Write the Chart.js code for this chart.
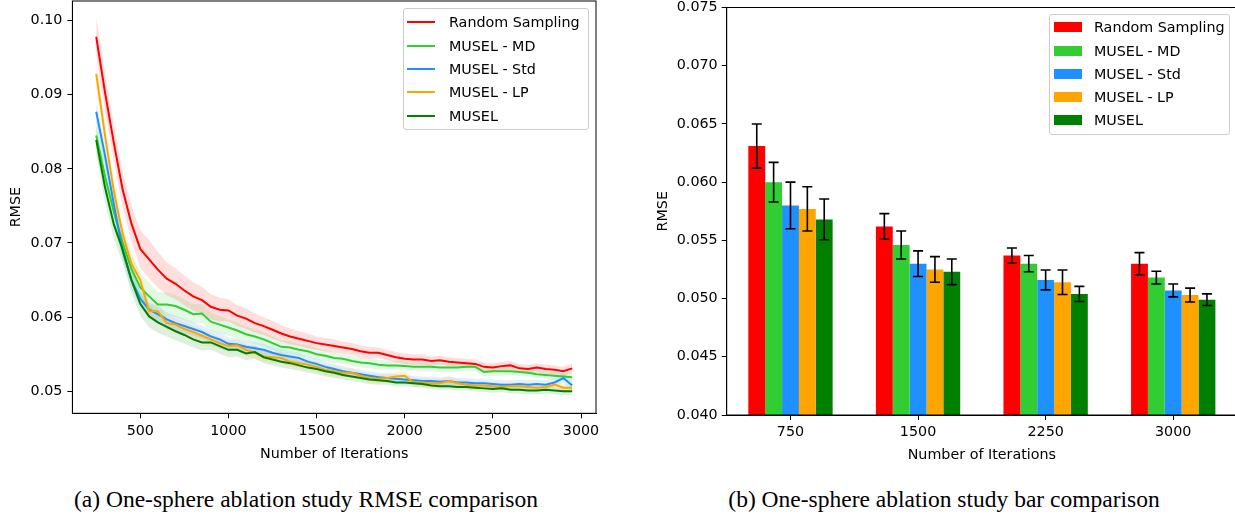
<!DOCTYPE html>
<html lang="en">
<head>
<meta charset="UTF-8">
<title>One-sphere ablation study</title>
<script src="https://cdn.jsdelivr.net/npm/chart.js"></script>
<style>
  html, body { margin: 0; padding: 0; background: #fff; }
  body { width: 1235px; height: 516px; overflow: hidden; position: relative; font-family: "DejaVu Sans", sans-serif; color: #000; }
  canvas { position: absolute; top: 0; }
  #lineChart { left: 0; }
  #barChart { left: 640px; }
  .legend { position: absolute; background: rgba(255,255,255,0.8); border: 1px solid #ccc; border-radius: 3px; box-sizing: border-box; font-size: 14.3px; }
  .legend .row { position: absolute; left: 0; right: 0; height: 20px; line-height: 20px; white-space: nowrap; }
  .legend .sw { position: absolute; }
  .legend .txt { position: absolute; }
  .caption { position: absolute; top: 488px; line-height: 23.5px; font-family: "Liberation Serif", "Times New Roman", serif; font-size: 23.5px; transform: translateX(-50%); white-space: nowrap; }
</style>
</head>
<body>
<canvas id="lineChart" width="610" height="470"></canvas>
<canvas id="barChart" width="620" height="470"></canvas>
<div class="legend" id="lineLegend" style="left:403px; top:8px; width:186px; height:122px;"></div>
<div class="legend" id="barLegend" style="left:1049px; top:14px; width:181px; height:121px;"></div>
<div class="caption" style="left:306px;">(a) One-sphere ablation study RMSE comparison</div>
<div class="caption" style="left:944px;">(b) One-sphere ablation study bar comparison</div>
<script>
// ---- shared series info ----
const seriesNames = ['Random Sampling', 'MUSEL - MD', 'MUSEL - Std', 'MUSEL - LP', 'MUSEL'];
const seriesColors = ['#ff0000', '#32cd32', '#1e90ff', '#ffa500', '#008000'];
const bandColors = ['rgba(255,0,0,0.13)', 'rgba(50,205,50,0.13)', 'rgba(30,144,255,0.13)', 'rgba(255,165,0,0.13)', 'rgba(0,128,0,0.13)'];

// ---- (a) RMSE vs iterations, sampled every 50 iterations from 250 to 2950 ----
const iters = [250, 300, 350, 400, 450, 500, 550, 600, 650, 700, 750,
               800, 850, 900, 950, 1000, 1050, 1100, 1150, 1200, 1250, 1300,
               1350, 1400, 1450, 1500, 1550, 1600, 1650, 1700, 1750, 1800, 1850,
               1900, 1950, 2000, 2050, 2100, 2150, 2200, 2250, 2300, 2350, 2400,
               2450, 2500, 2550, 2600, 2650, 2700, 2750, 2800, 2850, 2900, 2950];

const rsLine = [0.0978, 0.0903, 0.0835, 0.0772, 0.0726, 0.0692, 0.0678, 0.0664, 0.0652, 0.0645, 0.0636,
                0.0628, 0.0623, 0.0614, 0.0610, 0.0609, 0.0602, 0.0598, 0.0592, 0.0588, 0.0583, 0.0578,
                0.0574, 0.0571, 0.0568, 0.0565, 0.0563, 0.0561, 0.0559, 0.0557, 0.0554, 0.0552, 0.0552,
                0.0549, 0.0546, 0.0544, 0.0543, 0.0543, 0.0541, 0.0542, 0.0540, 0.0539, 0.0538, 0.0537,
                0.0533, 0.0532, 0.0534, 0.0535, 0.0531, 0.0530, 0.0532, 0.0530, 0.0529, 0.0527, 0.0531];
const mdLine = [0.0845, 0.0790, 0.0742, 0.0700, 0.0665, 0.0640, 0.0628, 0.0617, 0.0617, 0.0615, 0.0610,
                0.0604, 0.0605, 0.0594, 0.0590, 0.0586, 0.0582, 0.0577, 0.0574, 0.0570, 0.0565, 0.0560,
                0.0559, 0.0556, 0.0554, 0.0550, 0.0548, 0.0545, 0.0544, 0.0541, 0.0539, 0.0538, 0.0536,
                0.0535, 0.0535, 0.0534, 0.0533, 0.0533, 0.0533, 0.0532, 0.0532, 0.0532, 0.0533, 0.0533,
                0.0526, 0.0527, 0.0527, 0.0527, 0.0526, 0.0525, 0.0523, 0.0522, 0.0521, 0.0520, 0.0519];
const stdLine = [0.0877, 0.0818, 0.0752, 0.0690, 0.0650, 0.0625, 0.0610, 0.0604, 0.0597, 0.0592, 0.0588,
                 0.0584, 0.0580, 0.0574, 0.0570, 0.0564, 0.0563, 0.0560, 0.0558, 0.0556, 0.0552, 0.0549,
                 0.0547, 0.0545, 0.0540, 0.0537, 0.0533, 0.0530, 0.0527, 0.0525, 0.0523, 0.0521, 0.0519,
                 0.0518, 0.0517, 0.0516, 0.0515, 0.0514, 0.0514, 0.0513, 0.0514, 0.0512, 0.0512, 0.0511,
                 0.0511, 0.0510, 0.0509, 0.0509, 0.0510, 0.0509, 0.0510, 0.0509, 0.0512, 0.0518, 0.0508];
const lpLine = [0.0928, 0.0845, 0.0770, 0.0712, 0.0672, 0.0650, 0.0608, 0.0608, 0.0592, 0.0590, 0.0584,
                0.0580, 0.0575, 0.0570, 0.0565, 0.0561, 0.0562, 0.0556, 0.0552, 0.0547, 0.0546, 0.0545,
                0.0540, 0.0538, 0.0536, 0.0533, 0.0529, 0.0527, 0.0525, 0.0525, 0.0521, 0.0518, 0.0517,
                0.0518, 0.0520, 0.0521, 0.0512, 0.0512, 0.0511, 0.0511, 0.0514, 0.0511, 0.0509, 0.0508,
                0.0508, 0.0507, 0.0506, 0.0507, 0.0507, 0.0506, 0.0505, 0.0506, 0.0509, 0.0505, 0.0505];
const muselLine = [0.0839, 0.0775, 0.0725, 0.0691, 0.0650, 0.0618, 0.0601, 0.0593, 0.0587, 0.0581, 0.0576,
                   0.0570, 0.0566, 0.0566, 0.0561, 0.0556, 0.0556, 0.0551, 0.0553, 0.0546, 0.0543, 0.0540,
                   0.0538, 0.0535, 0.0532, 0.0530, 0.0527, 0.0525, 0.0522, 0.0520, 0.0518, 0.0516, 0.0515,
                   0.0514, 0.0512, 0.0512, 0.0511, 0.0510, 0.0508, 0.0507, 0.0507, 0.0506, 0.0506, 0.0505,
                   0.0504, 0.0503, 0.0504, 0.0502, 0.0502, 0.0501, 0.0501, 0.0502, 0.0501, 0.0500, 0.0500];

// half-width of the shaded band around each curve
const rsSpread = [.0027, .0025, .0024, .0024, .0024, .0025, .0026, .0024, .0022, .0021, .0020,
                  .0019, .0018, .0017, .0016, .0015, .0014, .0014, .0013, .0012, .0012, .0011,
                  .0011, .0010, .0010, .0009, .0009, .0009, .0008, .0008, .0008, .0008, .0007,
                  .0007, .0007, .0007, .0007, .0007, .0006, .0006, .0006, .0006, .0006, .0006,
                  .0006, .0006, .0006, .0006, .0006, .0006, .0006, .0006, .0006, .0006, .0007];
const mdSpread = [.0022, .0022, .0021, .0020, .0020, .0019, .0018, .0017, .0016, .0015, .0014,
                  .0013, .0013, .0012, .0012, .0011, .0011, .0010, .0010, .0010, .0009, .0009,
                  .0009, .0008, .0008, .0008, .0008, .0007, .0007, .0007, .0007, .0007, .0007,
                  .0006, .0006, .0006, .0006, .0006, .0006, .0006, .0006, .0006, .0006, .0006,
                  .0006, .0006, .0006, .0005, .0005, .0005, .0005, .0005, .0005, .0005, .0005];
const stdSpread = [.0015, .0015, .0014, .0013, .0012, .0011, .0010, .0010, .0010, .0010, .0010,
                   .0009, .0009, .0009, .0009, .0009, .0008, .0008, .0008, .0008, .0008, .0008,
                   .0007, .0007, .0007, .0007, .0007, .0007, .0007, .0006, .0006, .0006, .0006,
                   .0006, .0006, .0006, .0006, .0006, .0006, .0006, .0006, .0006, .0006, .0006,
                   .0006, .0006, .0006, .0006, .0006, .0006, .0006, .0006, .0006, .0007, .0007];
const lpSpread = [.0018, .0016, .0014, .0013, .0012, .0011, .0010, .0010, .0010, .0009, .0009,
                  .0009, .0009, .0009, .0008, .0008, .0008, .0008, .0008, .0008, .0008, .0008,
                  .0007, .0007, .0007, .0007, .0007, .0007, .0006, .0006, .0006, .0006, .0006,
                  .0006, .0006, .0006, .0006, .0006, .0006, .0006, .0006, .0006, .0006, .0006,
                  .0005, .0005, .0005, .0005, .0005, .0005, .0005, .0005, .0005, .0005, .0005];
const muselSpread = [.0020, .0020, .0019, .0018, .0017, .0016, .0015, .0014, .0013, .0012, .0012,
                     .0011, .0011, .0010, .0010, .0010, .0009, .0009, .0009, .0008, .0008, .0008,
                     .0008, .0007, .0007, .0007, .0007, .0007, .0006, .0006, .0006, .0006, .0006,
                     .0005, .0005, .0005, .0005, .0005, .0005, .0005, .0005, .0005, .0005, .0005,
                     .0005, .0005, .0005, .0005, .0005, .0005, .0005, .0005, .0005, .0005, .0005];

const lineXTicks = [500, 1000, 1500, 2000, 2500, 3000];
const lineYTicks = [0.05, 0.06, 0.07, 0.08, 0.09, 0.10];

// ---- (b) bar comparison ----
const barCats = ['750', '1500', '2250', '3000'];
const rsBar = [0.0631, 0.0562, 0.0537, 0.0530];
const rsErr = [0.0019, 0.0011, 0.00065, 0.00095];
const mdBar = [0.0600, 0.0546, 0.0530, 0.0518];
const mdErr = [0.0017, 0.0012, 0.0007, 0.00055];
const stdBar = [0.0580, 0.0530, 0.0516, 0.0507];
const stdErr = [0.0020, 0.0011, 0.00085, 0.00055];
const lpBar = [0.0577, 0.0525, 0.0514, 0.0503];
const lpErr = [0.0019, 0.0011, 0.00105, 0.0006];
const muselBar = [0.0568, 0.0523, 0.0504, 0.0499];
const muselErr = [0.00175, 0.0011, 0.00065, 0.0005];
const barYTicks = [0.040, 0.045, 0.050, 0.055, 0.060, 0.065, 0.070, 0.075];

// ---- drawing ----
Chart.defaults.font.family = '"DejaVu Sans", sans-serif';
Chart.defaults.font.size = 14.3;
Chart.defaults.color = '#000';

const framePlugin = {
  id: 'frame',
  afterDraw(chart) {
    const { ctx, chartArea: a } = chart;
    ctx.save();
    ctx.strokeStyle = '#000';
    ctx.lineWidth = 1;
    ctx.strokeRect(a.left, a.top, a.right - a.left, a.bottom - a.top);
    ctx.restore();
  }
};

const errorBarPlugin = {
  id: 'errorBars',
  afterDatasetsDraw(chart) {
    const { ctx } = chart;
    const y = chart.scales.y;
    ctx.save();
    ctx.strokeStyle = '#000';
    ctx.lineWidth = 1.6;
    chart.data.datasets.forEach((ds, i) => {
      chart.getDatasetMeta(i).data.forEach((bar, j) => {
        const hi = y.getPixelForValue(ds.data[j] + ds.errors[j]);
        const lo = y.getPixelForValue(ds.data[j] - ds.errors[j]);
        ctx.beginPath();
        ctx.moveTo(bar.x, hi); ctx.lineTo(bar.x, lo);
        ctx.moveTo(bar.x - 5, hi); ctx.lineTo(bar.x + 5, hi);
        ctx.moveTo(bar.x - 5, lo); ctx.lineTo(bar.x + 5, lo);
        ctx.stroke();
      });
    });
    ctx.restore();
  }
};

function axisGrid(extra) {
  return Object.assign({ drawOnChartArea: false, drawTicks: true, tickLength: 5, color: '#000', lineWidth: 1 }, extra);
}

const lineSeries = [rsLine, mdLine, stdLine, lpLine, muselLine];
const spreads = [rsSpread, mdSpread, stdSpread, lpSpread, muselSpread];
const lineDatasets = [];
lineSeries.forEach((vals, s) => {
  lineDatasets.push({
    label: seriesNames[s],
    data: iters.map((it, k) => ({ x: it, y: vals[k] })),
    borderColor: seriesColors[s],
    borderWidth: 2,
    pointRadius: 0,
    fill: false,
    order: 4 - s
  });
});
lineSeries.forEach((vals, s) => {
  lineDatasets.push({
    data: iters.map((it, k) => ({ x: it, y: vals[k] + spreads[s][k] })),
    borderColor: 'rgba(0,0,0,0)', borderWidth: 0, pointRadius: 0, fill: false, order: 10
  });
  lineDatasets.push({
    data: iters.map((it, k) => ({ x: it, y: vals[k] - spreads[s][k] })),
    borderColor: 'rgba(0,0,0,0)', borderWidth: 0, pointRadius: 0,
    fill: '-1', backgroundColor: bandColors[s], order: 10
  });
});

new Chart(document.getElementById('lineChart'), {
  type: 'line',
  data: { datasets: lineDatasets },
  options: {
    responsive: false,
    animation: false,
    devicePixelRatio: 1,
    layout: { padding: { left: 0, top: 1, right: 14, bottom: 0 } },
    plugins: { legend: { display: false }, tooltip: { enabled: false } },
    scales: {
      x: {
        type: 'linear', min: 115, max: 3085,
        afterBuildTicks: s => { s.ticks = lineXTicks.map(v => ({ value: v })); },
        afterFit: s => { s.height = 56.7; s.paddingLeft = 0; s.paddingRight = 0; },
        ticks: { padding: 4, autoSkip: false, maxRotation: 0, callback: v => String(v) },
        grid: axisGrid(),
        border: { display: true, color: '#000', width: 1 },
        title: { display: true, text: 'Number of Iterations', padding: { top: 0, bottom: 7.4 } }
      },
      y: {
        type: 'linear', min: 0.04704, max: 0.10262,
        afterBuildTicks: s => { s.ticks = lineYTicks.map(v => ({ value: v })); },
        afterFit: s => { s.width = 72.4; s.paddingTop = 0; s.paddingBottom = 0; },
        ticks: { padding: 5, autoSkip: false, callback: v => v.toFixed(2) },
        grid: axisGrid(),
        border: { display: true, color: '#000', width: 1 },
        title: { display: true, text: 'RMSE', padding: { top: 7.4, bottom: 0 } }
      }
    }
  },
  plugins: [framePlugin]
});

const barValues = [rsBar, mdBar, stdBar, lpBar, muselBar];
const barErrors = [rsErr, mdErr, stdErr, lpErr, muselErr];

new Chart(document.getElementById('barChart'), {
  type: 'bar',
  data: {
    labels: barCats,
    datasets: barValues.map((vals, s) => ({
      label: seriesNames[s],
      data: vals,
      errors: barErrors[s],
      backgroundColor: seriesColors[s],
      borderWidth: 0,
      categoryPercentage: 0.661,
      barPercentage: 1
    }))
  },
  options: {
    responsive: false,
    animation: false,
    devicePixelRatio: 1,
    layout: { padding: { left: 0, top: 7.5, right: 23, bottom: 0 } },
    plugins: { legend: { display: false }, tooltip: { enabled: false } },
    scales: {
      x: {
        afterFit: s => { s.height = 55; s.paddingLeft = 0; s.paddingRight = 0; },
        ticks: { padding: 4, autoSkip: false, maxRotation: 0 },
        grid: axisGrid({ offset: false }),
        border: { display: true, color: '#000', width: 1 },
        title: { display: true, text: 'Number of Iterations', padding: { top: 0, bottom: 6.4 } }
      },
      y: {
        min: 0.040, max: 0.075,
        afterBuildTicks: s => { s.ticks = barYTicks.map(v => ({ value: v })); },
        afterFit: s => { s.width = 86.7; s.paddingTop = 0; s.paddingBottom = 0; },
        ticks: { padding: 4, autoSkip: false, callback: v => v.toFixed(3) },
        grid: axisGrid(),
        border: { display: true, color: '#000', width: 1 },
        title: { display: true, text: 'RMSE', padding: { top: 14.9, bottom: 0 } }
      }
    }
  },
  plugins: [framePlugin, errorBarPlugin]
});

// ---- legends (built from the series names and colours) ----
function buildLegend(id, kind, swLeft, txtLeft, firstCenter, step) {
  const box = document.getElementById(id);
  seriesNames.forEach((name, s) => {
    const row = document.createElement('div');
    row.className = 'row';
    row.style.top = (firstCenter + s * step - 10) + 'px';
    const sw = document.createElement('div');
    sw.className = 'sw';
    sw.style.left = swLeft + 'px';
    sw.style.width = '28px';
    sw.style.background = seriesColors[s];
    if (kind === 'line') { sw.style.top = '9px'; sw.style.height = '2px'; }
    else { sw.style.top = '5px'; sw.style.height = '10px'; }
    const txt = document.createElement('div');
    txt.className = 'txt';
    txt.style.left = txtLeft + 'px';
    txt.textContent = name;
    row.appendChild(sw);
    row.appendChild(txt);
    box.appendChild(row);
  });
}
buildLegend('lineLegend', 'line', 3, 45, 13.3, 23.35);
buildLegend('barLegend', 'bar', 4, 44, 12.3, 23.2);
</script>
</body>
</html>
